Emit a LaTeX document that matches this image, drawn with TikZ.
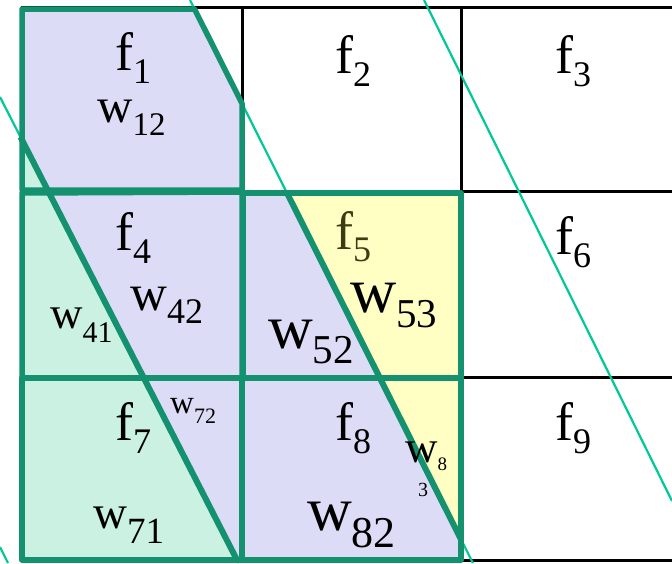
\documentclass[tikz,border=0pt]{standalone}
\usepackage{fontspec}
\setmainfont{Liberation Serif}
\definecolor{edgegreen}{RGB}{20,145,110}
\definecolor{thinteal}{RGB}{0,200,150}
\definecolor{lav}{RGB}{220,220,246}
\definecolor{mint}{RGB}{202,241,226}
\definecolor{lemon}{RGB}{255,255,196}
\definecolor{olivetext}{RGB}{60,60,20}
\newcommand{\lbl}[5]{{\fontsize{#1}{#1}\selectfont #4}\raisebox{-#3pt}{\fontsize{#2}{#2}\selectfont #5}}
\tikzset{
  blackgrid/.style={draw=black, line width=3pt},
  cellbox/.style={draw=edgegreen, line width=5.5pt, line join=round},
  cutline/.style={draw=edgegreen, line width=6pt},
  thinline/.style={draw=thinteal, line width=2.2pt},
  lab/.style={anchor=base west, inner sep=0pt, text=black},
}
\begin{document}
\begin{tikzpicture}[x=1pt, y=-1pt]
\useasboundingbox (0,0) rectangle (672,563);
% key points
\coordinate (A1) at (22,9);
\coordinate (A2) at (194.5,9);
\coordinate (A3) at (242,103.5);
\coordinate (A4) at (242,190);
\coordinate (A5) at (47.6,190);
\coordinate (A6) at (22,139.9);
\coordinate (A7) at (22,190);
\coordinate (B1) at (22,193);
\coordinate (B2) at (49.2,193);
\coordinate (B3) at (242,192);
\coordinate (B4) at (242,378);
\coordinate (B5) at (143.9,378);
\coordinate (B6) at (22,378);
\coordinate (C1) at (243,193);
\coordinate (C2) at (287,193);
\coordinate (C3) at (461,193);
\coordinate (C4) at (461,378);
\coordinate (C5) at (380,378);
\coordinate (C6) at (243,378);
\coordinate (D3) at (242,560);
\coordinate (D4) at (237,560);
\coordinate (D5) at (22,560);
\coordinate (E1) at (461,539.4);
\coordinate (E2) at (461,560);
% black grid
\draw[blackgrid] (21,7) -- (672,7);
\draw[blackgrid] (21,191) -- (672,191);
\draw[blackgrid] (21,377) -- (672,377);
\draw[blackgrid] (21,560) -- (672,560);
\draw[blackgrid] (21,7) -- (21,560);
\draw[blackgrid] (242,7) -- (242,560);
\draw[blackgrid] (461,7) -- (461,560);
% fills
\fill[lav] (A1) -- (A2) -- (A3) -- (A4) -- (A5) -- (A6) -- cycle;
\fill[mint] (A6) -- (A5) -- (A7) -- cycle;
\fill[mint] (B1) -- (B2) -- (B5) -- (B6) -- cycle;
\fill[lav] (B2) -- (B3) -- (B4) -- (B5) -- cycle;
\fill[lav] (C1) -- (C2) -- (C5) -- (C6) -- cycle;
\fill[lemon] (C2) -- (C3) -- (C4) -- (C5) -- cycle;
\fill[mint] (B6) -- (B5) -- (D4) -- (D5) -- cycle;
\fill[lav] (B5) -- (B4) -- (D3) -- (D4) -- cycle;
\fill[lav] (B4) -- (C5) -- (E1) -- (E2) -- (D3) -- cycle;
\fill[lemon] (C5) -- (C4) -- (E1) -- cycle;
% thin diagonal lines
\coordinate (L1a) at (424,0);   \coordinate (L1b) at (672,501);
\coordinate (L2a) at (190,0);   \coordinate (L2b) at (472.9,563);
\coordinate (L3a) at (0,97);    \coordinate (L3b) at (238.5,563);
\coordinate (L4a) at (0,547);   \coordinate (L4b) at (8,563);
\draw[thinline] (L1a) -- (L1b);
\draw[thinline] (L2a) -- (L2b);
\draw[thinline] (L3a) -- (L3b);
\draw[thinline] (L4a) -- (L4b);
% thick cell outlines
\draw[cellbox] (A1) -- (A2) -- (A3) -- (A4) -- (A7) -- cycle;
\draw[cellbox] (B1) -- (B3) -- (B4) -- (B6) -- cycle;
\draw[cellbox] (C1) -- (C3) -- (C4) -- (C6) -- cycle;
\draw[cellbox] (B6) -- (B4) -- (D3) -- (D5) -- cycle;
\draw[cellbox] (B4) -- (C4) -- (E2) -- (D3) -- cycle;
% thick cut lines
\draw[cutline] (20.5,137) -- (D4);
\draw[cutline] (C2) -- (E1);
% labels
\node[lab] (f1) at (115,70) {\lbl{54}{36}{13}{f}{1}};
\node[lab] (f2) at (335,73) {\lbl{54}{36}{13}{f}{2}};
\node[lab] (f3) at (555,73) {\lbl{54}{36}{13}{f}{3}};
\node[lab] (f4) at (115,250) {\lbl{54}{36}{13}{f}{4}};
\node[lab, text=olivetext] (f5) at (335,249) {\lbl{54}{36}{12}{f}{5}};
\node[lab] (f6) at (555,254) {\lbl{54}{36}{13}{f}{6}};
\node[lab] (f7) at (115,440) {\lbl{54}{36}{13}{f}{7}};
\node[lab] (f8) at (335,440) {\lbl{54}{36}{13}{f}{8}};
\node[lab] (f9) at (555,440) {\lbl{54}{36}{13}{f}{9}};
\node[lab] (w12) at (97,122) {\lbl{49}{33}{13}{w}{12}};
\node[lab] (w42) at (130,310) {\lbl{51}{36}{13}{w}{42}};
\node[lab] (w41) at (50,328) {\lbl{45}{30}{14}{w}{41}};
\node[lab] (w53) at (350,312) {\lbl{64}{41}{15}{w}{53}};
\node[lab] (w52) at (268,348) {\lbl{62}{41}{15}{w}{52}};
\node[lab] (w72) at (170,413) {\lbl{33}{22}{10}{w}{72}};
\node[lab] (w71) at (93,528) {\lbl{47}{37}{15}{w}{71}};
\node[lab] (w82) at (307,530) {\lbl{62}{44}{17}{w}{82}};
\node[lab] (w8) at (405,462) {\lbl{45}{19}{8}{w}{8}};
\node[lab] (w8b) at (418,496) {\fontsize{20}{20}\selectfont 3};
\end{tikzpicture}
\end{document}
